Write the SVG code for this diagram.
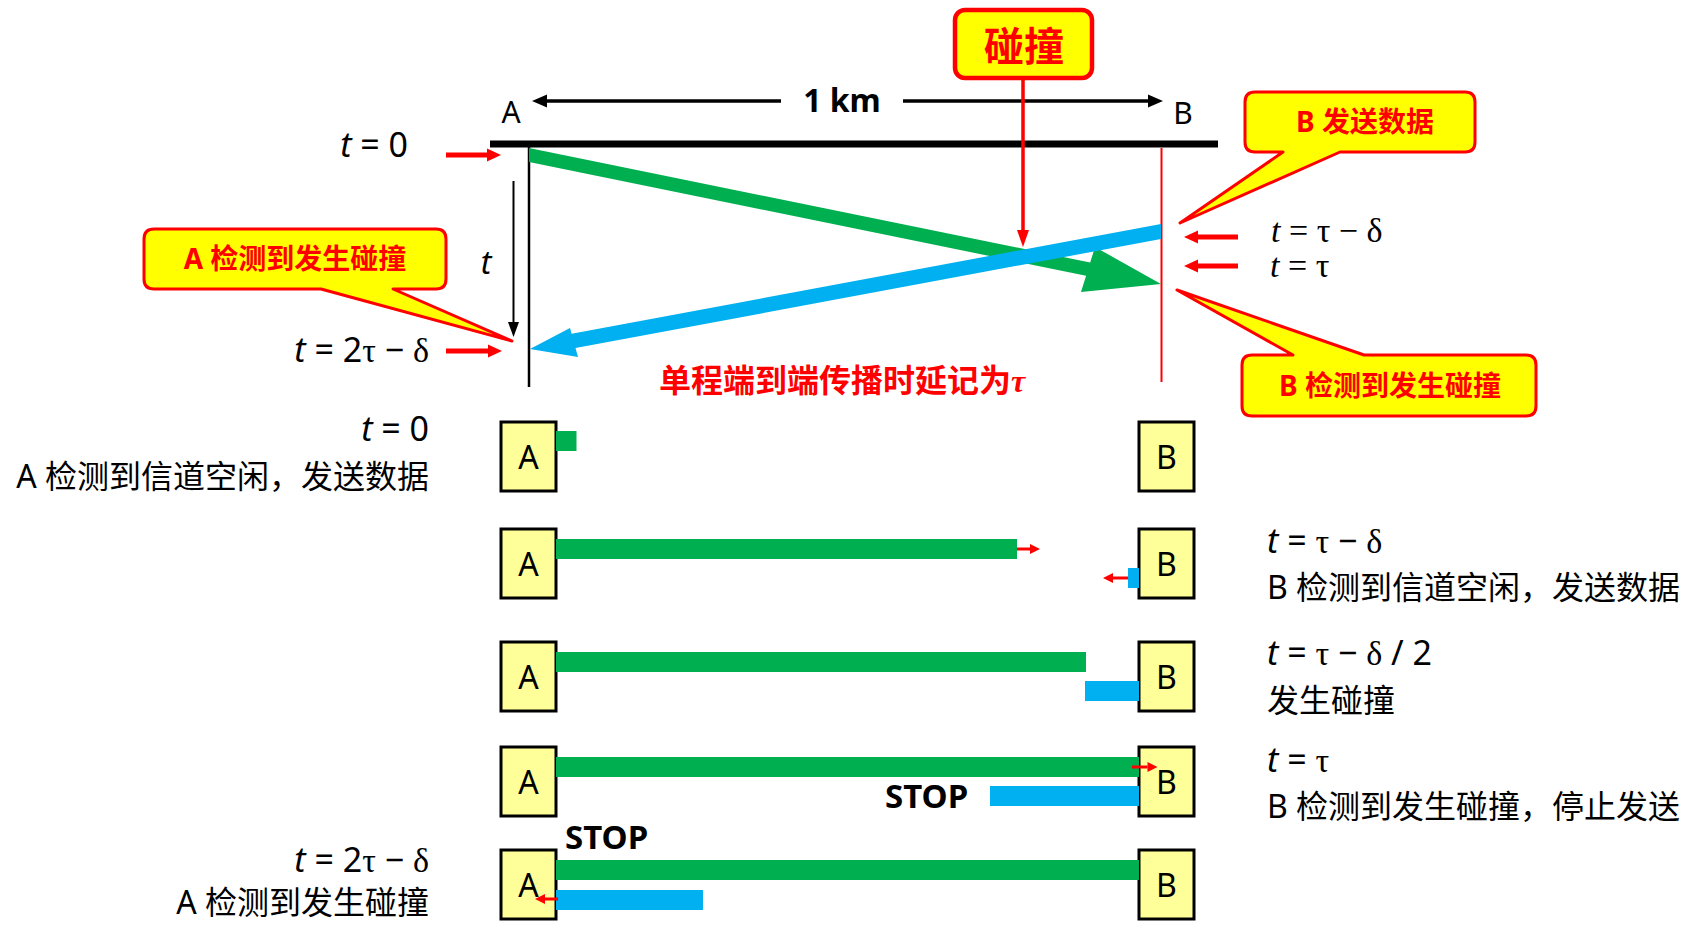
<svg xmlns="http://www.w3.org/2000/svg" width="1683" height="925" viewBox="0 0 1683 925">
<style>
text { font-family: 'Noto Sans', 'Noto Sans CJK SC', sans-serif; fill: #000; }
.lbl { font-size: 32px; }
.callt { font-size: 28px; font-weight: bold; fill: #FF0000; text-anchor: middle; }
.bub { fill: #FFFF00; stroke: #FF0000; stroke-width: 3; stroke-linejoin: round; }
.box { fill: #FFFF99; stroke: #000; stroke-width: 3; }
.boxt { font-size: 32px; text-anchor: middle; }
.g { fill: #00B050; }
.b { fill: #00B0F0; }
.it { font-style: italic; }
.gr { font-family: 'Liberation Serif', serif; }
.math { font-size: 34px; }
.mathS { font-family: 'Liberation Serif', serif; font-size: 34px; }
.stop { font-size: 33px; font-weight: bold; }
.rarrow { stroke: #FF0000; stroke-width: 5; fill: none; }
.rsmall { stroke: #FF0000; stroke-width: 3; fill: none; }
.end { text-anchor: end; }
.mid { text-anchor: middle; }
</style>
<defs>
<marker id="hRed" markerUnits="userSpaceOnUse" orient="auto" overflow="visible" markerWidth="20" markerHeight="20" refX="0" refY="0"><path d="M0,-6.5 L14,0 L0,6.5 Z" fill="#FF0000"/></marker>
<marker id="hRedS" markerUnits="userSpaceOnUse" orient="auto" overflow="visible" markerWidth="20" markerHeight="20" refX="0" refY="0"><path d="M0,-5 L10,0 L0,5 Z" fill="#FF0000"/></marker>
<marker id="hRedL" markerUnits="userSpaceOnUse" orient="auto" overflow="visible" markerWidth="20" markerHeight="20" refX="0" refY="0"><path d="M0,-6 L17,0 L0,6 Z" fill="#FF0000"/></marker>
<marker id="hBlack" markerUnits="userSpaceOnUse" orient="auto" overflow="visible" markerWidth="20" markerHeight="20" refX="0" refY="0"><path d="M0,-6.5 L15,0 L0,6.5 Z" fill="#000"/></marker>
<marker id="hBlackT" markerUnits="userSpaceOnUse" orient="auto" overflow="visible" markerWidth="20" markerHeight="20" refX="0" refY="0"><path d="M0,-5.5 L15,0 L0,5.5 Z" fill="#000"/></marker>
</defs>
<rect width="1683" height="925" fill="#FFFFFF"/>

<!-- timeline -->
<g id="timeline">
  <line x1="490" y1="144" x2="1218" y2="144" stroke="#000" stroke-width="7"/>
  <line x1="529" y1="141" x2="529" y2="387" stroke="#000" stroke-width="2.5"/>
  <line x1="1161.5" y1="148" x2="1161.5" y2="382" stroke="#FF0000" stroke-width="2"/>
  <text x="511" y="123" class="mid" font-size="30">A</text>
  <text x="1183" y="124" class="mid" font-size="30">B</text>
  <text x="842" y="112" class="mid" font-size="32" font-weight="bold">1 km</text>
  <text x="486" y="274" class="mid it" font-size="32">t</text>
  <text x="408" y="157" class="end math"><tspan class="it">t</tspan> = 0</text>
  <text x="429" y="362" class="end math"><tspan class="it">t</tspan> = 2<tspan class="gr">τ</tspan> − <tspan class="gr">δ</tspan></text>
  <text x="1271" y="242" class="mathS"><tspan class="it">t</tspan> = τ − δ</text>
  <text x="1270" y="277" class="mathS"><tspan class="it">t</tspan> = τ</text>
  <text x="659" y="392" font-size="32" font-weight="bold" style="fill:#FF0000">单程端到端传播时延记为<tspan class="gr it">τ</tspan></text>
</g>

<!-- signals -->
<g id="signals">
  <polygon class="g" points="529,148 1090.2,262.5 1095,247 1161,284 1081,292 1086.1,275.7 529,162"/>
  <polygon class="b" points="1161,224 571.6,333.7 570,328 530,349 578,357 575.5,348 1161,239"/>
</g>

<!-- callouts -->
<g id="callout-collision">
  <rect x="955" y="10" width="137" height="68" rx="10" fill="#FFFF00" stroke="#FF0000" stroke-width="4.5"/>
  <text x="1024" y="61" class="mid" font-size="40" font-weight="bold" style="fill:#FF0000">碰撞</text>
</g>
<g id="callout-a">
  <path class="bub" d="M154,229 H436 Q446,229 446,239 V279 Q446,289 436,289 H393 L512,341 L321,289 H154 Q144,289 144,279 V239 Q144,229 154,229 Z"/>
  <text x="295" y="269" class="callt">A 检测到发生碰撞</text>
</g>
<g id="callout-b-send">
  <path class="bub" d="M1255,92 H1465 Q1475,92 1475,102 V142 Q1475,152 1465,152 H1340 L1180,223 L1283,152 H1255 Q1245,152 1245,142 V102 Q1245,92 1255,92 Z"/>
  <text x="1365" y="132" class="callt">B 发送数据</text>
</g>
<g id="callout-b-detect">
  <path class="bub" d="M1252,355 H1293 L1177,290 L1364,355 H1526 Q1536,355 1536,365 V406 Q1536,416 1526,416 H1252 Q1242,416 1242,406 V365 Q1242,355 1252,355 Z"/>
  <text x="1390" y="396" class="callt">B 检测到发生碰撞</text>
</g>

<!-- rows -->
<g id="row1">
  <rect class="box" x="501" y="422" width="55" height="69"/>
  <rect class="box" x="1139" y="422" width="55" height="69"/>
  <text x="528.5" y="468.5" class="boxt">A</text>
  <text x="1166.5" y="468.5" class="boxt">B</text>
  <rect class="g" x="556" y="431" width="20.5" height="20"/>
  <text x="429" y="441" class="end math"><tspan class="it">t</tspan> = 0</text>
  <text x="429" y="488" class="end lbl">A 检测到信道空闲，发送数据</text>
</g>
<g id="row2">
  <rect class="box" x="501" y="529" width="55" height="69"/>
  <rect class="box" x="1139" y="529" width="55" height="69"/>
  <text x="528.5" y="575.5" class="boxt">A</text>
  <text x="1166.5" y="575.5" class="boxt">B</text>
  <rect class="g" x="556" y="539" width="461" height="20"/>
  <rect class="b" x="1128" y="568" width="11" height="20"/>
  <text x="1267" y="553" class="math"><tspan class="it">t</tspan> = <tspan class="gr">τ</tspan> − <tspan class="gr">δ</tspan></text>
  <text x="1267" y="599" class="lbl">B 检测到信道空闲，发送数据</text>
</g>
<g id="row3">
  <rect class="box" x="501" y="642" width="55" height="69"/>
  <rect class="box" x="1139" y="642" width="55" height="69"/>
  <text x="528.5" y="688.5" class="boxt">A</text>
  <text x="1166.5" y="688.5" class="boxt">B</text>
  <rect class="g" x="556" y="652" width="530" height="20"/>
  <rect class="b" x="1085" y="681" width="54" height="20"/>
  <text x="1267" y="665" class="math"><tspan class="it">t</tspan> = <tspan class="gr">τ</tspan> − <tspan class="gr">δ</tspan> / 2</text>
  <text x="1267" y="712" class="lbl">发生碰撞</text>
</g>
<g id="row4">
  <rect class="box" x="501" y="747" width="55" height="69"/>
  <rect class="box" x="1139" y="747" width="55" height="69"/>
  <text x="528.5" y="793.5" class="boxt">A</text>
  <text x="1166.5" y="793.5" class="boxt">B</text>
  <rect class="g" x="556" y="757" width="583" height="20"/>
  <rect class="b" x="990" y="786" width="149" height="20"/>
  <text x="885" y="808" class="stop">STOP</text>
  <text x="1267" y="772" class="math"><tspan class="it">t</tspan> = <tspan class="gr">τ</tspan></text>
  <text x="1267" y="818" class="lbl">B 检测到发生碰撞，停止发送</text>
</g>
<g id="row5">
  <rect class="box" x="501" y="850" width="55" height="69"/>
  <rect class="box" x="1139" y="850" width="55" height="69"/>
  <text x="528.5" y="896.5" class="boxt">A</text>
  <text x="1166.5" y="896.5" class="boxt">B</text>
  <rect class="g" x="556" y="860" width="583" height="20"/>
  <rect class="b" x="556" y="890" width="147" height="20"/>
  <text x="565" y="849" class="stop">STOP</text>
  <text x="429" y="872" class="end math"><tspan class="it">t</tspan> = 2<tspan class="gr">τ</tspan> − <tspan class="gr">δ</tspan></text>
  <text x="429" y="914" class="end lbl">A 检测到发生碰撞</text>
</g>

<!-- connectors -->
<g id="connectors">
  <line x1="781" y1="101" x2="547" y2="101" stroke="#000" stroke-width="3.5" marker-end="url(#hBlack)"/>
  <line x1="903" y1="101" x2="1148" y2="101" stroke="#000" stroke-width="3.5" marker-end="url(#hBlack)"/>
  <line x1="513.5" y1="181" x2="513.5" y2="322" stroke="#000" stroke-width="2" marker-end="url(#hBlackT)"/>
  <line class="rarrow" x1="446" y1="155" x2="487" y2="155" marker-end="url(#hRed)"/>
  <line class="rarrow" x1="446" y1="351" x2="488" y2="351" marker-end="url(#hRed)"/>
  <line class="rarrow" x1="1238" y1="237" x2="1198" y2="237" marker-end="url(#hRed)"/>
  <line class="rarrow" x1="1238" y1="266" x2="1198" y2="266" marker-end="url(#hRed)"/>
  <line x1="1023" y1="78" x2="1023" y2="230" stroke="#FF0000" stroke-width="3.5" marker-end="url(#hRedL)"/>
  <line class="rsmall" x1="1017" y1="549" x2="1030" y2="549" marker-end="url(#hRedS)"/>
  <line class="rsmall" x1="1128" y1="578" x2="1113" y2="578" marker-end="url(#hRedS)"/>
  <line class="rsmall" x1="1132" y1="767" x2="1147.5" y2="767" marker-end="url(#hRedS)"/>
  <line class="rsmall" x1="558" y1="899" x2="545" y2="899" marker-end="url(#hRedS)"/>
</g>
</svg>
